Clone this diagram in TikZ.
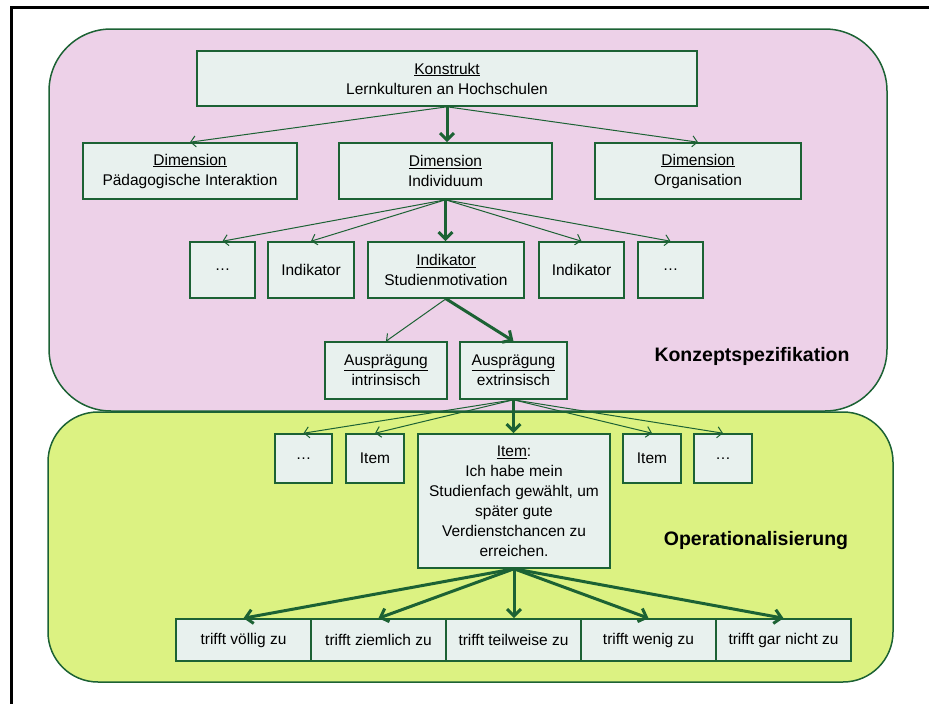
\documentclass[tikz,border=0pt]{standalone}
\usepackage{fontspec}
\setmainfont{Liberation Sans}
\usetikzlibrary{arrows.meta}
\definecolor{pinkbg}{RGB}{237,209,232}
\definecolor{greenbg}{RGB}{220,242,130}
\definecolor{dkgreen}{RGB}{28,98,52}
\definecolor{boxfill}{RGB}{232,241,238}
\begin{document}
\begin{tikzpicture}[x=1pt,y=-1pt,
  box/.style={draw=dkgreen, line width=1.6pt, fill=boxfill, align=center, inner sep=0pt,
    font=\fontsize{15.5}{20}\selectfont},
  thinarr/.style={draw=dkgreen, line width=1pt, -{Straight Barb[length=5pt,width=11pt]}},
  thickarr/.style={draw=dkgreen, line width=3pt, -{Straight Barb[length=7pt,width=14pt]}},
  region/.style={draw=dkgreen, line width=1.5pt},
  lbl/.style={font=\bfseries\fontsize{19.5}{22}\selectfont, anchor=base, inner sep=0pt},
  frame/.style={draw=black, line width=3pt}
]
\useasboundingbox (0,0) rectangle (929,704);
\draw[frame] (11,704) -- (11,7) -- (929,7);

% regions
\draw[region, fill=pinkbg, rounded corners=62pt] (49,29) rectangle (887,411);
\draw[region, fill=greenbg, rounded corners=50pt] (48,412) rectangle (893,682);

\node[lbl] (kl) at (752,361) {Konzeptspezifikation};
\node[lbl] (ol) at (756,545) {Operationalisierung};

% level 0
\node[box, minimum width=500pt, minimum height=55pt] (kon) at (447,78.5) {\underline{Konstrukt}\\Lernkulturen an Hochschulen};
% level 1
\node[box, minimum width=214pt, minimum height=56pt] (d1) at (190,171) {\underline{Dimension}\\Pädagogische Interaktion};
\node[box, minimum width=213pt, minimum height=56pt] (d2) at (445.5,171) {\underline{Dimension}\\Individuum};
\node[box, minimum width=206pt, minimum height=56pt] (d3) at (698,171) {\underline{Dimension}\\Organisation};
% level 2
\node[box, minimum width=65pt, minimum height=56pt] (i1) at (222.5,270) {\dots};
\node[box, minimum width=86pt, minimum height=56pt] (i2) at (311,270) {Indikator};
\node[box, minimum width=156pt, minimum height=56pt] (i3) at (446,270) {\underline{Indikator}\\Studienmotivation};
\node[box, minimum width=85pt, minimum height=56pt] (i4) at (581.5,270) {Indikator};
\node[box, minimum width=65pt, minimum height=56pt] (i5) at (670.5,270) {\dots};
% level 3
\node[box, minimum width=122pt, minimum height=57pt] (a1) at (386,370.5) {\underline{Ausprägung}\\intrinsisch};
\node[box, minimum width=107pt, minimum height=57pt] (a2) at (513.5,370.5) {\underline{Ausprägung}\\extrinsisch};
% level 4
\node[box, minimum width=57pt, minimum height=49pt] (t1) at (303.5,458.5) {\dots};
\node[box, minimum width=58pt, minimum height=49pt] (t2) at (375,458.5) {Item};
\node[box, minimum width=192pt, minimum height=134pt] (t3) at (514,501) {\underline{Item}:\\Ich habe mein\\Studienfach gewählt, um\\später gute\\Verdienstchancen zu\\erreichen.};
\node[box, minimum width=58pt, minimum height=49pt] (t4) at (652,458.5) {Item};
\node[box, minimum width=58pt, minimum height=49pt] (t5) at (723,458.5) {\dots};
% level 5
\node[box, minimum width=135pt, minimum height=42pt] (r1) at (243.5,640) {trifft völlig zu};
\node[box, minimum width=135pt, minimum height=42pt] (r2) at (378.5,640) {trifft ziemlich zu};
\node[box, minimum width=135pt, minimum height=42pt] (r3) at (513.5,640) {trifft teilweise zu};
\node[box, minimum width=135pt, minimum height=42pt] (r4) at (648.5,640) {trifft wenig zu};
\node[box, minimum width=135pt, minimum height=42pt] (r5) at (783.5,640) {trifft gar nicht zu};

% connectors
\draw[thinarr] (kon.south) -- (d1.north);
\draw[thickarr] (kon.south) -- (kon.south |- d2.north);
\draw[thinarr] (kon.south) -- (d3.north);

\draw[thinarr] (d2.south) -- (i1.north);
\draw[thinarr] (d2.south) -- (i2.north);
\draw[thickarr] (d2.south) -- (d2.south |- i3.north);
\draw[thinarr] (d2.south) -- (i4.north);
\draw[thinarr] (d2.south) -- (i5.north);

\draw[thinarr] (i3.south) -- (a1.north);
\draw[thickarr] (i3.south) -- (a2.north);

\draw[thinarr] (a2.south) -- (t1.north);
\draw[thinarr] (a2.south) -- (t2.north);
\draw[thickarr] (a2.south) -- (a2.south |- t3.north);
\draw[thinarr] (a2.south) -- (t4.north);
\draw[thinarr] (a2.south) -- (t5.north);

\draw[thickarr] (t3.south) -- (r1.north);
\draw[thickarr] (t3.south) -- (r2.north);
\draw[thickarr] (t3.south) -- (t3.south |- r3.north);
\draw[thickarr] (t3.south) -- (r4.north);
\draw[thickarr] (t3.south) -- (r5.north);
\end{tikzpicture}
\end{document}
